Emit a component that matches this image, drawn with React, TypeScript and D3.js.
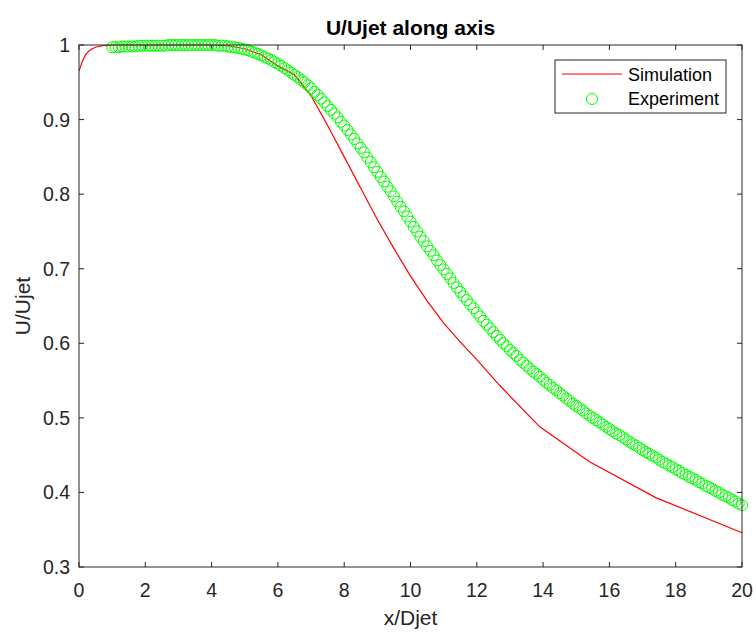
import React from "react";
import * as d3 from "d3";

const simX = [0, 0.1, 0.2, 0.3, 0.4, 0.5, 0.7, 1.0, 2, 3, 4, 4.5, 5, 5.5, 6, 6.5, 7, 7.5, 8, 8.5, 9, 9.5, 10, 10.5, 11, 11.5, 12, 12.7, 13.9, 15.4, 17.4, 20];
const simY = [0.965, 0.978, 0.987, 0.992, 0.995, 0.997, 0.999, 1.0, 1.0, 1.0, 1.0, 0.999, 0.995, 0.987, 0.972, 0.96, 0.932, 0.892, 0.85, 0.808, 0.766, 0.727, 0.69, 0.657, 0.627, 0.602, 0.578, 0.543, 0.488, 0.441, 0.393, 0.346];

const expStart = 1.0;
const expStep = 0.1;
const expY = [
  0.997, 0.997, 0.997, 0.998, 0.998,
  0.998, 0.998, 0.998, 0.999, 0.999,
  0.999, 0.999, 0.999, 0.999, 0.999,
  0.999, 0.999, 1.0, 1.0, 1.0,
  1.0, 1.0, 1.0, 1.0, 1.0,
  1.0, 1.0, 1.0, 1.0, 1.0,
  1.0, 1.0, 0.999, 0.999, 0.999,
  0.998, 0.997, 0.997, 0.996, 0.995,
  0.994, 0.993, 0.991, 0.99, 0.988,
  0.986, 0.984, 0.982, 0.98, 0.977,
  0.975, 0.972, 0.969, 0.966, 0.963,
  0.96, 0.957, 0.953, 0.95, 0.946,
  0.942, 0.937, 0.933, 0.928, 0.923,
  0.918, 0.913, 0.908, 0.903, 0.897,
  0.892, 0.886, 0.88, 0.874, 0.868,
  0.862, 0.856, 0.849, 0.843, 0.836,
  0.83, 0.823, 0.817, 0.81, 0.804,
  0.797, 0.79, 0.783, 0.777, 0.77,
  0.763, 0.756, 0.75, 0.743, 0.737,
  0.73, 0.724, 0.718, 0.711, 0.705,
  0.699, 0.693, 0.687, 0.681, 0.675,
  0.669, 0.663, 0.658, 0.652, 0.647,
  0.641, 0.636, 0.63, 0.625, 0.62,
  0.615, 0.61, 0.605, 0.6, 0.596,
  0.591, 0.587, 0.583, 0.578, 0.574,
  0.57, 0.566, 0.562, 0.559, 0.555,
  0.551, 0.547, 0.544, 0.54, 0.537,
  0.533, 0.53, 0.526, 0.523, 0.519,
  0.516, 0.513, 0.51, 0.506, 0.503,
  0.5, 0.497, 0.494, 0.491, 0.488,
  0.485, 0.482, 0.479, 0.477, 0.474,
  0.471, 0.468, 0.465, 0.463, 0.46,
  0.457, 0.454, 0.452, 0.449, 0.447,
  0.444, 0.441, 0.439, 0.436, 0.434,
  0.431, 0.429, 0.426, 0.424, 0.421,
  0.419, 0.417, 0.414, 0.412, 0.409,
  0.407, 0.405, 0.402, 0.4, 0.397,
  0.395, 0.393, 0.39, 0.388, 0.385,
  0.383,
];

const xTicks = [0, 2, 4, 6, 8, 10, 12, 14, 16, 18, 20];
const yTicks = [0.3, 0.4, 0.5, 0.6, 0.7, 0.8, 0.9, 1];
const yTickLabels = ["0.3", "0.4", "0.5", "0.6", "0.7", "0.8", "0.9", "1"];

const W = 756;
const H = 632;
const L = 79, R = 742, T = 45, B = 567;
const AX = "#262626";
const FONT = "'Liberation Sans', Arial, Helvetica, sans-serif";

export default function App() {
  const x = d3.scaleLinear().domain([0, 20]).range([L, R]);
  const y = d3.scaleLinear().domain([0.3, 1]).range([B, T]);
  const simPts: [number, number][] = simX.map((v, i) => [v, simY[i]]);
  const line = d3.line<[number, number]>().x((d) => x(d[0])).y((d) => y(d[1]));
  const expPts = expY.map((v, i) => [expStart + i * expStep, v]);
  const tl = 5;

  return (
    <svg width={W} height={H} style={{ position: "absolute", left: 0, top: 0, background: "#fff" }} fontFamily={FONT}>
      <rect x={0} y={0} width={W} height={H} fill="#fff" />
      <defs>
        <clipPath id="plotclip">
          <rect x={L - 8} y={T - 8} width={R - L + 16} height={B - T + 16} />
        </clipPath>
      </defs>
      <rect x={L} y={T} width={R - L} height={B - T} fill="#fff" />
      {/* ticks */}
      {xTicks.map((t) => (
        <g key={"xt" + t}>
          <line x1={x(t)} x2={x(t)} y1={B} y2={B - tl} stroke={AX} strokeWidth={1} />
          <line x1={x(t)} x2={x(t)} y1={T} y2={T + tl} stroke={AX} strokeWidth={1} />
          <text x={x(t)} y={597} textAnchor="middle" fontSize={19.5} fill={AX}>{t}</text>
        </g>
      ))}
      {yTicks.map((t, i) => (
        <g key={"yt" + t}>
          <line x1={L} x2={L + tl} y1={y(t)} y2={y(t)} stroke={AX} strokeWidth={1} />
          <line x1={R} x2={R - tl} y1={y(t)} y2={y(t)} stroke={AX} strokeWidth={1} />
          <text x={70} y={y(t) + 7} textAnchor="end" fontSize={19.5} fill={AX}>{yTickLabels[i]}</text>
        </g>
      ))}
      <g clipPath="url(#plotclip)">
        <path d={line(simPts) || ""} fill="none" stroke="#ff0000" strokeWidth={1.2} />
        {expPts.map((p, i) => (
          <circle key={i} cx={x(p[0])} cy={y(p[1])} r={5.5} fill="none" stroke="#00ff00" strokeWidth={1} />
        ))}
      </g>
      <rect x={L} y={T} width={R - L} height={B - T} fill="none" stroke={AX} strokeWidth={1} />
      {/* title and labels */}
      <text x={(L + R) / 2} y={35} textAnchor="middle" fontSize={21} fontWeight="bold" fill="#000">U/Ujet along axis</text>
      <text x={(L + R) / 2} y={625} textAnchor="middle" fontSize={21} fill={AX}>x/Djet</text>
      <text transform={`translate(30,${(T + B) / 2}) rotate(-90)`} textAnchor="middle" fontSize={21} fill={AX}>U/Ujet</text>
      {/* legend */}
      <rect x={555} y={60} width={171} height={53} fill="#fff" stroke={AX} strokeWidth={1} />
      <line x1={562} x2={622} y1={74} y2={74} stroke="#ff0000" strokeWidth={1.2} />
      <text x={628} y={81} fontSize={18} fill="#000">Simulation</text>
      <circle cx={592} cy={99} r={5.5} fill="none" stroke="#00ff00" strokeWidth={1} />
      <text x={628} y={105} fontSize={18} fill="#000">Experiment</text>
    </svg>
  );
}
